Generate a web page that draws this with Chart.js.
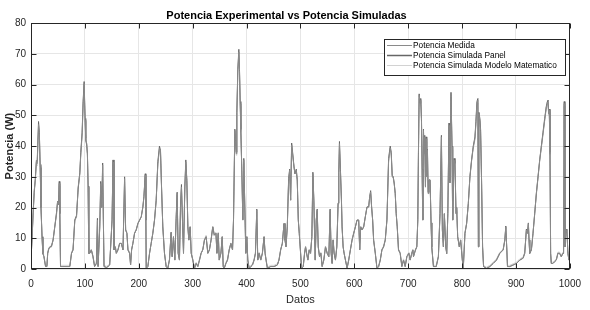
<!DOCTYPE html>
<html><head><meta charset="utf-8">
<script src="https://cdn.jsdelivr.net/npm/chart.js@4/dist/chart.umd.min.js"></script>
<style>html,body{margin:0;padding:0;background:#fff;}#c{display:block;}</style>
</head><body>
<canvas id="c" width="590" height="310"></canvas>
<script>
const datos = [
0,2,4,6,8,10,11.5,14,15.5,17,
18.5,20.5,22,24,27,29.5,31,33,35.5,38,
41,44,47.4,49.3,51,52.4,53.5,54.8,63,72,
75.2,78,81.3,84.5,87.5,90.6,92.4,94.9,96.7,98.6,
100.4,101.6,103.5,104.7,106,107.2,109,112,115,118,
121.4,123.3,124.5,127.6,129.4,131.3,133,134.3,135.5,139.9,
143,146,150.4,152.2,154,156.5,158.3,161.4,164.5,167.6,
170.7,173.7,175.6,178,179.9,183,184.8,186.7,189.1,192.2,
195.3,198.4,201.5,204.6,207.6,209.5,212,213.2,213.8,216.9,
220,223,226.1,229.2,232.3,235.4,238.4,240.3,242.2,244.6,
247.7,250.8,253.9,257,260,261.9,264.4,266.9,269.3,271.2,
273.1,275.5,277.4,279.2,281.1,283,285.5,287.3,289.2,291.1,
292.9,295.4,297.3,300.3,303.4,306.5,309.6,312.7,315.7,318.8,
321.9,325,328.1,331.1,334.2,337.3,340.1,343.2,345,347.5,
349.3,352.4,354.9,356.7,358.6,361.7,364.7,367.8,370.9,374,
375.8,378.3,379.5,380.8,382,383.8,385.7,386.9,388.2,389.4,
391.2,393.1,394.9,396.8,398.6,400.5,402.3,404.8,407.9,411,
414,416.5,419,420.8,423.3,426.4,429.4,432.5,434.4,436.2,
438.7,444.8,451,457.2,460.2,463.3,466.4,469.5,471.3,473.2,
475.6,478.1,480,481.8,483.7,485.5,488,489.8,492.3,494.1,
496,497.8,500.3,502.1,505.2,507.7,509.5,511.4,513.8,516.3,
518.8,521.2,523.1,524.9,526.2,527.4,529.3,531.1,533,535.4,
537.9,540.3,543.4,546.5,549.6,552.7,555.1,557,558.8,560.7,
562.5,565,567.5,569.9,571.2,572.4,574.2,576.1,577.3,579.2,
581,583.5,586.6,589.6,592.7,595.8,598.9,602,605,608.1,
610,611.8,614.3,617.4,620.4,623.5,626.6,628.5,630.3,632.1,
634,635.8,638.9,642,645.1,648.2,651.2,654.3,657.4,660.5,
663.6,666.6,668.5,670.3,672.2,674,675.9,677.7,679.6,682,
685.1,688.2,691.3,694.4,697.5,701.2,703.6,706.7,708.6,709.8,
711.6,713.5,716,717.8,719,720.3,722.1,723.3,724.6,725.8,
727,728.3,729.5,730.7,732,733.2,734.4,735.7,737,738.5,
740.6,742.4,743.7,746.8,752,756,759,761.6,763.4,765.3,
767.1,769.6,771.5,773.5,775.7,777.5,779.4,781.3,782.5,785,
786.8,788.7,789.9,791.8,794.8,797.3,800.4,802.2,805.3,808.4,
811.5,814.5,817.6,820.7,823.8,825.6,827.5,829.3,830.2,831.2,
833,834.3,836.1,838,839.8,845.4,851.5,857.6,863.8,870,
876.2,879.3,881.1,883,884.2,888.5,894.7,900.8,907,913.1,
916.2,919.3,921.2,923,924.2,925.5,928.6,931.6,934.7,937.8,
940.9,944,947,950.1,953.2,956.3,958.1,959.4,960.6,961.8,
963.1,964.3,965.5,968.6,971.7,974.8,977.8,980.9,984,987.1,
988.3,989.5,990.8,992.6,994.5,996.3,998.2,999.4,1000
];
const medida = [
3,10,18,25.6,28.9,35.4,34.3,47,44,34,
20.2,10,5.1,4,0.8,0.8,5.1,6.7,7.2,7.2,
9.4,13.7,18,21.9,21,27.8,18,0.8,0.8,0.8,
5.1,6.2,15.9,17,26.7,31,37.5,44,53.8,60.3,
48.4,41.9,40.8,37.5,26.7,5.1,5.1,6.2,4,0.8,
1.8,15.9,0.8,13.7,27.8,20.2,33.8,15.9,0.8,0.5,
0.8,1.3,15.9,34.8,6.2,7.2,5.1,6.2,8.3,8.3,
6.2,29.4,12.7,11.6,6.2,5.1,1.3,6.2,8.3,11.6,
12.7,14.8,15.9,17,20.2,23.5,30.5,15.9,0.2,0.8,
5.1,8.3,11.6,15.9,22.4,34.3,39.2,38.6,26.7,13.7,
5.1,0.8,0.2,3,11.6,4,10.5,2.9,15.9,24.6,
5.1,2.9,20.2,26.7,15.9,5.1,26.7,34.8,28.9,13.7,
9.4,13.7,5.1,2.9,0.2,1.8,0.8,2.9,5.1,6.2,
9.4,10.5,5.1,6.2,9.4,13.7,11,11.6,5.1,11.6,
2.9,5.1,10.5,0.8,0.2,1.8,2.9,6.2,8.3,6.2,
15.9,45.1,41.9,37.5,50.5,64.6,70.6,64.6,53.8,45.1,
32.1,15.9,35.4,20.2,5.1,10.5,2.9,0.2,0.8,1.3,
2.9,5.1,19.2,2.9,5.1,2.9,5.1,10.5,5.1,2.9,
0.2,0.8,0.8,1.3,2.9,6.2,8.3,14.8,9.4,7.2,
13.7,28.9,32.1,22.4,40.3,37.5,33.2,31,32.1,28.9,
15.9,11.6,5.1,0.2,0.8,5.1,7.2,5.1,2.9,6.2,
5.1,10.5,31,22.4,11.6,2.9,15.9,19.2,7.2,4,
5.1,0.8,2.9,7.2,5.1,4,19.2,5.1,1.8,9.4,
5.1,2.9,7.2,21.3,31,40.8,32.1,22.4,13.7,7.2,
5.1,2.9,0.2,2.9,6.2,9.4,11.6,13.7,15.9,15.9,
6.2,13.7,12.7,13.7,17,20.2,20.2,23.5,25.1,20.2,
15.9,9.4,5.1,0.2,0.8,2.9,6.2,7.2,9.4,15.9,
35.4,39.4,37.5,30,30,27.8,24.6,18,13.7,6.2,
5.1,0.8,2.9,0.8,4,5.1,2.9,5.1,6.2,4,
5.1,6.2,7.2,15.9,37.5,56.5,53.8,54.9,48.4,32.1,
15.9,45.1,37.5,43,26.7,42.4,30,38.6,24.6,28.9,
29,15,7.2,0.8,0.8,4,18,43,12.6,7.2,
18,7.2,5,18,46.7,28,57,39.7,15.9,35.4,
34.3,18,20,10.5,7.2,9.4,2.9,0.2,11.6,14.8,
21.3,30,35.4,39.7,42.4,47.3,53.8,54.9,7.2,50.5,
48.4,45.1,29,7.2,0.8,0.2,0.8,1.8,2.9,5.1,
6.2,9.4,13.7,6.2,0.8,0.8,1.3,1.8,2.9,3.5,
5.1,12.7,11.6,14.8,9.4,5.1,6.2,11.6,18,24.6,
30,35.4,39.7,44,48.4,52.7,53.8,54.3,50.5,51.6,
37.5,5.1,1.8,1.8,2.4,2.9,5.1,5.1,4,5.1,
5.1,53.8,7.2,11.6,12.7,5.1,2.9,6.2,11.6
];
const panel = [
3,10,18.5,25,29.5,35,35,48,44.5,33,
20,10.5,5,4,0.8,0.8,5.1,6.5,7.2,7.5,
9.4,13.5,18.5,22,21,28.5,18,0.8,0.8,0.8,
5.1,6.2,16,17.5,26,31.5,38,44.5,54.5,61,
49,42.5,40,37.5,27,5.1,5.1,6.2,4,0.8,
1.8,16.5,0.8,13.7,28.5,20,34.5,16,0.8,0.5,
0.8,1.3,16,35.5,6.2,7.2,5.1,6.2,8.3,8.3,
6.2,30,12.7,11.6,6.2,5.1,1.3,6.2,8.3,11.6,
12.7,14.8,15.9,17,20.2,23.5,31,15.9,0.2,0.8,
5.1,8.3,11.6,15.9,22.4,35,40,38.6,27,13.7,
5.1,0.8,0.2,3,12,4,10.5,2.9,16.5,25,
5.1,2.9,20.5,27.5,15.9,5.1,27,35.5,28.9,13.7,
9.4,13.7,5.1,2.9,0.2,1.8,0.8,2.9,5.1,6.2,
9.4,10.5,5.1,6.2,9.4,13.7,11,11.6,5.1,11.6,
2.9,5.1,10.5,0.8,0.2,1.8,2.9,6.2,8.3,6.2,
16,45.5,42,38,51,65,71.5,65,54.5,45.5,
32.5,16,36,20.2,5.1,10.5,2.9,0.2,0.8,1.3,
2.9,5.1,19.5,2.9,5.1,2.9,5.1,10.5,5.1,2.9,
0.2,0.8,0.8,1.3,2.9,6.2,8.3,14.8,9.4,7.2,
13.7,29.5,32.5,22.4,41,38,33.5,31,32.5,29,
16,11.6,5.1,0.2,0.8,5.1,7.2,5.1,2.9,6.2,
5.1,10.5,31.5,22.4,11.6,2.9,15.9,19.5,7.2,4,
5.1,0.8,2.9,7.2,5.1,4,19.5,5.1,1.8,9.4,
5.1,2.9,7.2,21.5,31.5,41.5,32.5,22.4,13.7,7.2,
5.1,2.9,0.2,2.9,6.2,9.4,11.6,13.7,15.9,15.9,
6.2,13.7,12.7,13.7,17,20.2,20.2,23.5,25.5,20.2,
15.9,9.4,5.1,0.2,0.8,2.9,6.2,7.2,9.4,16,
36,40,38,30.5,30,28,24.6,18,13.7,6.2,
5.1,0.8,2.9,0.8,4,5.1,2.9,5.1,6.2,4,
5.1,6.2,7.2,16,38,57,54,55.5,49,32.5,
16,45.5,38,43.5,27,43,30.5,39,25,29,
29,15,7.2,0.8,0.8,4,18,43.5,12.6,7.2,
18,7.2,5,18,47.5,28.5,57.5,40,16,36,
34.5,18,20,10.5,7.2,9.4,2.9,0.2,11.6,14.8,
21.3,30,35.5,40,43,48,54.5,55.5,7.2,51,
49,45.5,29,7.2,0.8,0.2,0.8,1.8,2.9,5.1,
6.2,9.4,14,6.2,0.8,0.8,1.3,1.8,2.9,3.5,
5.1,13,11.6,15,9.4,5.1,6.2,11.6,18,24.6,
30,35.5,40,44.5,49,53,54.5,55,51,52,
38,5.1,1.8,1.8,2.4,2.9,5.1,5.1,4,5.1,
5.1,54.5,7.2,11.6,13,5.1,2.9,6.2,11.6
];
const modelo = [
3.5,10.5,17.5,25,28,34.5,33.5,46,43,33.5,
20.5,10.5,5.5,4.5,1.2,1.2,5.5,7,7.5,7.5,
9.8,13.5,17.5,21.5,21,27,18.5,1.2,1.2,1.2,
5.5,6.5,15.5,17,26,30.5,37,43,53,59.5,
48,41.5,40.5,37,26.5,5.5,5.5,6.5,4.5,1.2,
2.2,15.5,1.2,14,27,20.5,33,16,1.2,0.9,
1.2,1.7,15.5,34,6.5,7.5,5.5,6.5,8.5,8.5,
6.5,28.5,13,12,6.5,5.5,1.7,6.5,8.5,12,
13,15,16,17,20,23,30,16,0.6,1.2,
5.5,8.5,12,16,22,34,38.5,38,26.5,14,
5.5,1.2,0.6,3.4,11.5,4.4,10.5,3.3,15.5,24,
5.5,3.3,20,26,16,5.5,26,34,28.5,14,
9.8,14,5.5,3.3,0.6,2.2,1.2,3.3,5.5,6.5,
9.8,11,5.5,6.5,9.8,14,11.5,12,5.5,12,
3.3,5.5,10.5,1.2,0.6,2.2,3.3,6.5,8.5,6.5,
16,44,41.5,37,50,63.5,69.5,64,53,44.5,
31.5,16,34.5,20,5.5,10.5,3.3,0.6,1.2,1.7,
3.3,5.5,18.5,3.3,5.5,3.3,5.5,10.5,5.5,3.3,
0.6,1.2,1.2,1.7,3.3,6.5,8.5,14.5,9.8,7.5,
14,28.5,31.5,22.5,39.5,37,33,31,31.5,28.5,
16,12,5.5,0.6,1.2,5.5,7.5,5.5,3.3,6.5,
5.5,10.5,30,22,12,3.3,16,19,7.5,4.4,
5.5,1.2,3.3,7.5,5.5,4.4,18.5,5.5,2.2,9.8,
5.5,3.3,7.5,21,30.5,40,31.5,22,14,7.5,
5.5,3.3,0.6,3.3,6.5,9.8,12,14,16,16,
6.5,14,13,14,17,20,20,23,24.5,20,
16,9.8,5.5,0.6,1.2,3.3,6.5,7.5,9.8,16,
34.5,38.5,37,30,29.5,27.5,24.5,18,14,6.5,
5.5,1.2,3.3,1.2,4.4,5.5,3.3,5.5,6.5,4.4,
5.5,6.5,7.5,16,36.5,55.5,53,54,48,32,
16,44,37,42,26.5,41.5,30,38,24.5,28.5,
28.5,15,7.5,1.2,1.2,4.4,18,42,13,7.5,
18,7.5,5.4,18,46,28,56,39,16,35,
34,18,20,10.5,7.5,9.8,3.3,0.6,12,15,
21,29.5,35,39,42,46.5,53,54,7.5,50,
48,44.5,28.5,7.5,1.2,0.6,1.2,2.2,3.3,5.5,
6.5,9.8,13.5,6.5,1.2,1.2,1.7,2.2,3.3,3.9,
5.5,12.5,12,14.5,9.8,5.5,6.5,12,18,24,
29.5,35,39,43.5,48,52,53,53.5,50,51,
37,5.5,2.2,2.2,2.8,3.3,5.5,5.5,4.4,5.5,
5.5,53,7.5,12,12.5,5.5,3.3,6.5,11.5
];
const xTicks = [0,100,200,300,400,500,600,700,800,900,1000];
const yTicks = [0,10,20,30,40,50,60,70,80];
const seriesNames = ['Potencia Medida','Potencia Simulada Panel','Potencia Simulada Modelo Matematico'];
const seriesColors = ['#8a8a8a','#666666','#d2d2d2'];
const titleText = 'Potencia Experimental vs Potencia Simuladas';
const xTitle = 'Datos';
const yTitle = 'Potencia (W)';

const FONT = "'Liberation Sans', Arial, Helvetica, sans-serif";
const AX = '#262626';

function pts(ys){ return datos.map((x,i)=>({x:x, y:ys[i]})); }

const boxPlugin = {
  id: 'matlabBox',
  afterDatasetsDraw(chart){
    const {ctx, chartArea:a, scales} = chart;
    const sx = scales.x, sy = scales.y;
    ctx.save();
    ctx.strokeStyle = AX; ctx.lineWidth = 1;
    const l = Math.round(a.left)+0.5, r = Math.round(a.right)-0.5, t = Math.round(a.top)+0.5, b = Math.round(a.bottom)-0.5;
    ctx.strokeRect(l, t, r-l, b-t);
    const L = 5;
    ctx.beginPath();
    xTicks.forEach(v=>{
      const px = Math.round(sx.getPixelForValue(v))+0.5;
      ctx.moveTo(px,b); ctx.lineTo(px,b-L);
      ctx.moveTo(px,t); ctx.lineTo(px,t+L);
    });
    yTicks.forEach(v=>{
      const py = Math.round(sy.getPixelForValue(v))+0.5;
      ctx.moveTo(l,py); ctx.lineTo(l+L,py);
      ctx.moveTo(r,py); ctx.lineTo(r-L,py);
    });
    ctx.stroke();
    // legend box
    const lx = 384.5, ly = 39.5, lw = 181, lh = 36;
    ctx.fillStyle = '#ffffff';
    ctx.fillRect(lx, ly, lw, lh);
    ctx.strokeStyle = AX;
    ctx.strokeRect(lx, ly, lw, lh);
    ctx.font = '8.3px ' + FONT;
    ctx.textBaseline = 'middle';
    ctx.textAlign = 'left';
    seriesNames.forEach((name,i)=>{
      const yy = 45.5 + i*10;
      ctx.strokeStyle = seriesColors[i];
      ctx.lineWidth = i === 1 ? 1.5 : 1;
      ctx.beginPath(); ctx.moveTo(387, yy); ctx.lineTo(412, yy); ctx.stroke();
      ctx.fillStyle = '#000000';
      ctx.fillText(name, 413, yy);
    });
    ctx.restore();
  }
};

new Chart(document.getElementById('c'), {
  type: 'scatter',
  data: {
    datasets: [
      {label: seriesNames[0], data: pts(medida), borderColor: seriesColors[0], backgroundColor: seriesColors[0]},
      {label: seriesNames[1], data: pts(panel), borderColor: seriesColors[1], backgroundColor: seriesColors[1]},
      {label: seriesNames[2], data: pts(modelo), borderColor: seriesColors[2], backgroundColor: seriesColors[2]}
    ].map(d=>Object.assign(d,{showLine:true, borderWidth:1, pointRadius:0, pointHoverRadius:0, tension:0, fill:false}))
  },
  options: {
    responsive: false,
    animation: false,
    devicePixelRatio: 1,
    layout: {padding: {left:0, right:17, top:0, bottom:0}},
    plugins: {
      legend: {display:false},
      tooltip: {enabled:false},
      title: {display:true, text:titleText, color:'#000000', font:{family:FONT, size:11, weight:'bold'}, padding:{top:9, bottom:1}}
    },
    scales: {
      x: {
        type:'linear', min:0, max:1000,
        afterBuildTicks: s=>{ s.ticks = xTicks.map(v=>({value:v})); },
        afterFit: s=>{ s.height = 41; },
        ticks: {font:{family:FONT, size:10}, color:AX, padding:9, maxRotation:0, autoSkip:false, callback: v=>String(v)},
        grid: {color:'#e6e6e6', drawTicks:false, lineWidth:1},
        border: {display:false},
        title: {display:true, text:xTitle, color:AX, font:{family:FONT, size:11}, padding:{top:0, bottom:3}}
      },
      y: {
        type:'linear', min:0, max:80,
        afterBuildTicks: s=>{ s.ticks = yTicks.map(v=>({value:v})); },
        afterFit: s=>{ s.width = 31; },
        ticks: {font:{family:FONT, size:10}, color:AX, padding:5, callback: v=>String(v)},
        grid: {color:'#e6e6e6', drawTicks:false, lineWidth:1},
        border: {display:false},
        title: {display:true, text:yTitle, color:AX, font:{family:FONT, size:11, weight:'bold'}, padding:{top:3, bottom:0}}
      }
    }
  },
  plugins: [boxPlugin]
});
</script>
</body></html>
